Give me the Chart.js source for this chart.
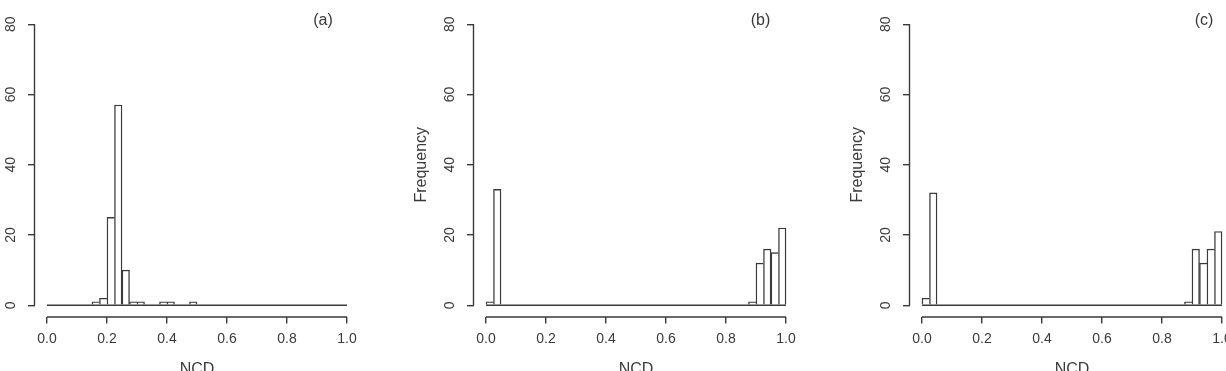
<!DOCTYPE html>
<html>
<head>
<meta charset="utf-8">
<script src="https://cdn.jsdelivr.net/npm/chart.js@4.4.1/dist/chart.umd.min.js"></script>
<style>
  html, body { margin: 0; padding: 0; background: #fff; overflow: hidden; width: 1226px; height: 371px; }
  .panel { position: absolute; top: 0; width: 406px; height: 384px; }
</style>
</head>
<body>
<div class="panel" style="left:-35px"><canvas id="histA"></canvas></div>
<div class="panel" style="left:404px"><canvas id="histB"></canvas></div>
<div class="panel" style="left:840px"><canvas id="histC"></canvas></div>
<script>
// histogram bins (left edges), width 0.025
const binStarts = [0.000, 0.025, 0.050, 0.075, 0.100, 0.125, 0.150, 0.175, 0.200, 0.225,
                   0.250, 0.275, 0.300, 0.325, 0.350, 0.375, 0.400, 0.425, 0.450, 0.475,
                   0.500, 0.525, 0.550, 0.575, 0.600, 0.625, 0.650, 0.675, 0.700, 0.725,
                   0.750, 0.775, 0.800, 0.825, 0.850, 0.875, 0.900, 0.925, 0.950, 0.975];
const binWidth = 0.025;
const histRange = [0, 1];

const countsA = [0, 0, 0, 0, 0, 0, 1, 2, 25, 57, 10, 1, 1, 0, 0, 1, 1, 0, 0, 1,
                 0, 0, 0, 0, 0, 0, 0, 0, 0, 0, 0, 0, 0, 0, 0, 0, 0, 0, 0, 0];
const countsB = [1, 33, 0, 0, 0, 0, 0, 0, 0, 0, 0, 0, 0, 0, 0, 0, 0, 0, 0, 0,
                 0, 0, 0, 0, 0, 0, 0, 0, 0, 0, 0, 0, 0, 0, 0, 1, 12, 16, 15, 22];
const countsC = [2, 32, 0, 0, 0, 0, 0, 0, 0, 0, 0, 0, 0, 0, 0, 0, 0, 0, 0, 0,
                 0, 0, 0, 0, 0, 0, 0, 0, 0, 0, 0, 0, 0, 0, 0, 1, 16, 12, 16, 21];

const xTicks = [0, 0.2, 0.4, 0.6, 0.8, 1.0];
const yTicks = [0, 20, 40, 60, 80];
const xLabel = 'NCD';
const yLabel = 'Frequency';

const ink = '#3a3a3a';
const lw = 1.4;
const fontFamily = '"Liberation Sans", Arial, Helvetica, sans-serif';

// R-style axis lines that only span the tick range, plus the panel tag
const rAxes = {
  id: 'rAxes',
  afterDraw(chart, args, opts) {
    const {ctx, chartArea, scales} = chart;
    const x = scales.x, y = scales.y;
    ctx.save();
    ctx.strokeStyle = ink;
    ctx.lineWidth = lw;
    ctx.beginPath();
    ctx.moveTo(x.getPixelForValue(xTicks[0]), chartArea.bottom + 0.5);
    ctx.lineTo(x.getPixelForValue(xTicks[xTicks.length - 1]), chartArea.bottom + 0.5);
    ctx.moveTo(chartArea.left - 0.5, y.getPixelForValue(yTicks[0]));
    ctx.lineTo(chartArea.left - 0.5, y.getPixelForValue(yTicks[yTicks.length - 1]));
    ctx.stroke();
    ctx.fillStyle = ink;
    ctx.font = '16px ' + fontFamily;
    ctx.textAlign = 'center';
    ctx.textBaseline = 'middle';
    ctx.fillText(opts.tag, x.getPixelForValue(opts.tagX), y.getPixelForValue(opts.tagY));
    ctx.restore();
  }
};

function histogram(canvasId, counts, tag, tagX, showYTitle) {
  const bars = binStarts.map((s, i) => ({x: s + binWidth / 2, y: counts[i]}));
  const cfg = {
    type: 'bar',
    data: {
      datasets: [
        {
          type: 'bar',
          data: bars,
          backgroundColor: '#fff',
          borderColor: ink,
          borderSkipped: 'start',
          borderWidth: (c) => {
            const i = c.dataIndex;
            const next = i + 1 < counts.length ? counts[i + 1] : 0;
            return {left: lw, top: lw, right: next < counts[i] ? lw : 0, bottom: 0};
          },
          barPercentage: 1,
          categoryPercentage: 1,
          order: 2,
        },
        {
          type: 'line',
          data: [{x: histRange[0], y: 0}, {x: histRange[1], y: 0}],
          borderColor: ink,
          borderWidth: lw,
          pointRadius: 0,
          order: 1,
        },
      ],
    },
    options: {
      responsive: true,
      maintainAspectRatio: false,
      animation: false,
      layout: {padding: {top: 13, right: 12, left: 0, bottom: 0}},
      plugins: {
        legend: {display: false},
        tooltip: {enabled: false},
        rAxes: {tag: tag, tagX: tagX, tagY: 81},
      },
      scales: {
        x: {
          type: 'linear',
          min: -0.04,
          max: 1.04,
          offset: false,
          afterBuildTicks: (s) => { s.ticks = xTicks.map(v => ({value: v})); },
          afterFit: (s) => { s.height = 67.5; s.paddingLeft = 0; s.paddingRight = 0; },
          border: {display: false},
          grid: {display: true, drawOnChartArea: false, drawTicks: true, tickLength: 7, color: ink, lineWidth: lw, offset: false},
          ticks: {
            color: ink, padding: 7, maxRotation: 0, autoSkip: false,
            font: {family: fontFamily, size: 14},
            callback: (v) => Number(v).toFixed(1),
          },
          title: {display: true, text: xLabel, color: ink, font: {family: fontFamily, size: 16}, padding: {top: 0, bottom: 5}},
        },
        y: {
          min: -3.2,
          max: 83.2,
          afterBuildTicks: (s) => { s.ticks = yTicks.map(v => ({value: v})); },
          afterFit: (s) => { s.width = 70; s.paddingTop = 0; s.paddingBottom = 0; },
          border: {display: false},
          grid: {display: true, drawOnChartArea: false, drawTicks: true, tickLength: 7, color: ink, lineWidth: lw},
          ticks: {
            color: ink, padding: 9, minRotation: 90, maxRotation: 90, crossAlign: 'center', autoSkip: false,
            font: {family: fontFamily, size: 14},
          },
          title: {display: showYTitle, text: yLabel, color: ink, font: {family: fontFamily, size: 16}, padding: {top: 8, bottom: 0}},
        },
      },
    },
    plugins: [rAxes],
  };
  return new Chart(document.getElementById(canvasId), cfg);
}

window.chartA = histogram('histA', countsA, '(a)', 0.92, false);
window.chartB = histogram('histB', countsB, '(b)', 0.915, true);
window.chartC = histogram('histC', countsC, '(c)', 0.94, true);
</script>
</body>
</html>
